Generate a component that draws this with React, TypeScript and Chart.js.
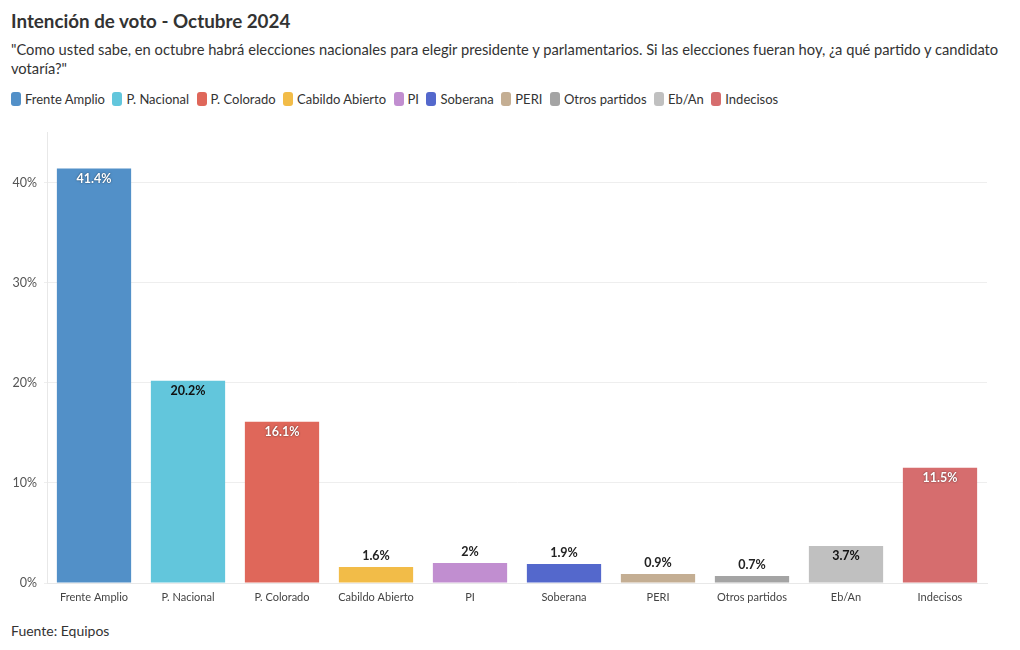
import React, { useEffect, useRef } from "react";
import { Chart, registerables } from "chart.js";

Chart.register(...registerables);

const categories = ["Frente Amplio", "P. Nacional", "P. Colorado", "Cabildo Abierto", "PI", "Soberana", "PERI", "Otros partidos", "Eb/An", "Indecisos"];
const values = [41.4, 20.2, 16.1, 1.6, 2, 1.9, 0.9, 0.7, 3.7, 11.5];
const colors = ["#5290C8", "#62C6DC", "#DF675A", "#F2BC48", "#C18ED0", "#5468CC", "#C4AE93", "#A4A4A4", "#C0C0C0", "#D66D6E"];
const labelColors = ["#fff", "#111", "#fff", "#222", "#222", "#222", "#222", "#222", "#111", "#fff"];
const yTicks = [0, 10, 20, 30, 40];

const FONT = "Lato, 'Noto Sans', sans-serif";

const valueLabels = {
  id: "valueLabels",
  afterDatasetsDraw(chart: any) {
    const ctx = chart.ctx;
    const meta = chart.getDatasetMeta(0);
    ctx.save();
    ctx.font = `bold 12.5px ${FONT}`;
    ctx.textAlign = "center";
    ctx.textBaseline = "middle";
    meta.data.forEach((bar: any, i: number) => {
      const v = values[i];
      const txt = `${v}%`;
      const inside = v >= 3;
      const y = inside ? bar.y + 10 : bar.y - 11;
      const col = inside ? labelColors[i] : "#222";
      if (col === "#fff") {
        ctx.shadowColor = "rgba(0,0,0,0.6)";
        ctx.shadowBlur = 2;
      } else {
        ctx.shadowColor = "transparent";
        ctx.shadowBlur = 0;
      }
      ctx.fillStyle = col;
      ctx.fillText(txt, bar.x, y);
    });
    ctx.restore();
  },
};

export default function App() {
  const ref = useRef<HTMLCanvasElement>(null);
  useEffect(() => {
    const chart = new Chart(ref.current!, {
      type: "bar",
      data: {
        labels: categories,
        datasets: [{ data: values, backgroundColor: colors, borderWidth: 0, barPercentage: 0.79, categoryPercentage: 1 }],
      },
      options: {
        animation: false,
        responsive: false,
        maintainAspectRatio: false,
        layout: { padding: { left: 0, right: 33, top: 9, bottom: 0 } },
        plugins: { legend: { display: false }, tooltip: { enabled: false } },
        scales: {
          x: {
            grid: { display: false, drawTicks: false },
            border: { display: true, color: "#e8e8e8" },
            ticks: { color: "#444", font: { family: FONT, size: 11 }, padding: 8, maxRotation: 0, autoSkip: false },
            afterFit: (s: any) => { s.height = 37; },
          },
          y: {
            min: 0,
            max: 45,
            afterBuildTicks: (s: any) => { s.ticks = yTicks.map((v) => ({ value: v })); },
            grid: { color: "#eeeeee", drawTicks: true, tickLength: 3, tickColor: "#eeeeee" },
            border: { display: true, color: "#e8e8e8" },
            ticks: { color: "#555", font: { family: FONT, size: 12.5 }, padding: 7, callback: (v: any) => `${v}%` },
            afterFit: (s: any) => { s.width = 47; },
          },
        },
      },
      plugins: [valueLabels],
    });
    return () => chart.destroy();
  }, []);

  return (
    <div style={{ position: "absolute", left: 0, top: 0, width: 1020, height: 650, background: "#fff", fontFamily: FONT, color: "#333" }}>
      <div style={{ position: "absolute", left: 11, top: 9, fontSize: 18.8, fontWeight: 700, color: "#333", whiteSpace: "nowrap" }}>
        Intención de voto - Octubre 2024
      </div>
      <div style={{ position: "absolute", left: 11, top: 40, fontSize: 14.7, lineHeight: "19px", color: "#333", whiteSpace: "nowrap" }}>
        "Como usted sabe, en octubre habrá elecciones nacionales para elegir presidente y parlamentarios. Si las elecciones fueran hoy, ¿a qué partido y candidato
        <br />
        votaría?"
      </div>
      <div style={{ position: "absolute", left: 11, top: 91, display: "flex", alignItems: "center", fontSize: 13, color: "#333", whiteSpace: "nowrap" }}>
        {categories.map((c, i) => (
          <div key={c} style={{ display: "flex", alignItems: "center", marginRight: 7.5 }}>
            <span style={{ display: "inline-block", width: 10, height: 14, borderRadius: 3, background: colors[i], marginRight: 4 }} />
            <span>{c}</span>
          </div>
        ))}
      </div>
      <canvas ref={ref} width={1020} height={502} style={{ position: "absolute", left: 0, top: 118, width: 1020, height: 502 }} />
      <div style={{ position: "absolute", left: 11, top: 622, fontSize: 14, color: "#333" }}>Fuente: Equipos</div>
    </div>
  );
}
